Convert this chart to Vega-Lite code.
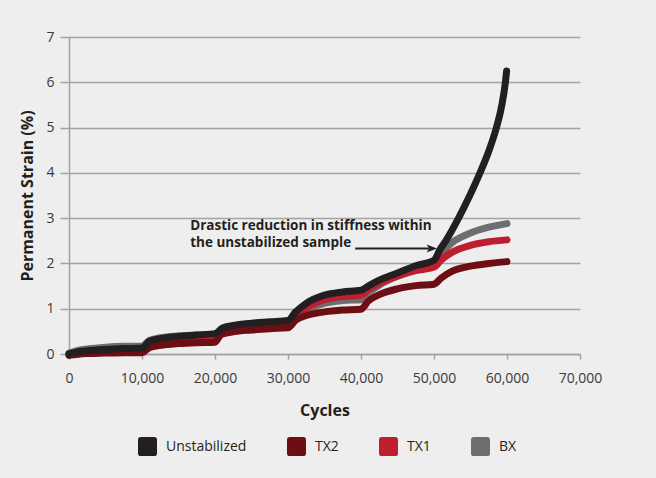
{
  "$schema": "https://vega.github.io/schema/vega-lite/v6.json",
  "width": 511,
  "height": 317,
  "autosize": {"type": "none"},
  "padding": {"left": 69, "top": 37, "right": 76, "bottom": 124},
  "background": "#eeeeee",
  "config": {
    "view": {"stroke": null},
    "font": "Open Sans",
    "axis": {
      "labelFont": "Open Sans",
      "labelFontSize": 14,
      "labelColor": "#3a3a3a",
      "titleFont": "Open Sans",
      "titleFontSize": 16,
      "titleFontWeight": "bold",
      "titleColor": "#231f20",
      "domainColor": "#a3a3a3",
      "domainWidth": 1.5,
      "tickColor": "#a3a3a3",
      "tickWidth": 1.5,
      "gridColor": "#a3a3a3",
      "gridWidth": 1.5
    }
  },
  "datasets": {
    "curves": [
      {"series": "BX", "cycles": 0, "strain": 0.02},
      {"series": "BX", "cycles": 1000, "strain": 0.07},
      {"series": "BX", "cycles": 2500, "strain": 0.11},
      {"series": "BX", "cycles": 5000, "strain": 0.15},
      {"series": "BX", "cycles": 7500, "strain": 0.17},
      {"series": "BX", "cycles": 10000, "strain": 0.17},
      {"series": "BX", "cycles": 11000, "strain": 0.3},
      {"series": "BX", "cycles": 12500, "strain": 0.36},
      {"series": "BX", "cycles": 15000, "strain": 0.4},
      {"series": "BX", "cycles": 17500, "strain": 0.42},
      {"series": "BX", "cycles": 20000, "strain": 0.43},
      {"series": "BX", "cycles": 21000, "strain": 0.5},
      {"series": "BX", "cycles": 22500, "strain": 0.54},
      {"series": "BX", "cycles": 25000, "strain": 0.57},
      {"series": "BX", "cycles": 27500, "strain": 0.59},
      {"series": "BX", "cycles": 30000, "strain": 0.6},
      {"series": "BX", "cycles": 31000, "strain": 0.8},
      {"series": "BX", "cycles": 32500, "strain": 0.97},
      {"series": "BX", "cycles": 35000, "strain": 1.12},
      {"series": "BX", "cycles": 37500, "strain": 1.18},
      {"series": "BX", "cycles": 40000, "strain": 1.2},
      {"series": "BX", "cycles": 41000, "strain": 1.35},
      {"series": "BX", "cycles": 42500, "strain": 1.52},
      {"series": "BX", "cycles": 45000, "strain": 1.72},
      {"series": "BX", "cycles": 47500, "strain": 1.88},
      {"series": "BX", "cycles": 50000, "strain": 2.0},
      {"series": "BX", "cycles": 51000, "strain": 2.22},
      {"series": "BX", "cycles": 52500, "strain": 2.46},
      {"series": "BX", "cycles": 55000, "strain": 2.67},
      {"series": "BX", "cycles": 57500, "strain": 2.8},
      {"series": "BX", "cycles": 60000, "strain": 2.88},

      {"series": "TX1", "cycles": 0, "strain": -0.02},
      {"series": "TX1", "cycles": 1000, "strain": 0.0},
      {"series": "TX1", "cycles": 2500, "strain": 0.02},
      {"series": "TX1", "cycles": 5000, "strain": 0.04},
      {"series": "TX1", "cycles": 7500, "strain": 0.05},
      {"series": "TX1", "cycles": 10000, "strain": 0.05},
      {"series": "TX1", "cycles": 11000, "strain": 0.15},
      {"series": "TX1", "cycles": 12500, "strain": 0.2},
      {"series": "TX1", "cycles": 15000, "strain": 0.25},
      {"series": "TX1", "cycles": 17500, "strain": 0.28},
      {"series": "TX1", "cycles": 20000, "strain": 0.3},
      {"series": "TX1", "cycles": 21000, "strain": 0.45},
      {"series": "TX1", "cycles": 22500, "strain": 0.5},
      {"series": "TX1", "cycles": 25000, "strain": 0.55},
      {"series": "TX1", "cycles": 27500, "strain": 0.58},
      {"series": "TX1", "cycles": 30000, "strain": 0.6},
      {"series": "TX1", "cycles": 31000, "strain": 0.82},
      {"series": "TX1", "cycles": 32500, "strain": 1.02},
      {"series": "TX1", "cycles": 35000, "strain": 1.2},
      {"series": "TX1", "cycles": 37500, "strain": 1.27},
      {"series": "TX1", "cycles": 40000, "strain": 1.3},
      {"series": "TX1", "cycles": 41000, "strain": 1.42},
      {"series": "TX1", "cycles": 42500, "strain": 1.56},
      {"series": "TX1", "cycles": 45000, "strain": 1.72},
      {"series": "TX1", "cycles": 47500, "strain": 1.84},
      {"series": "TX1", "cycles": 50000, "strain": 1.92},
      {"series": "TX1", "cycles": 51000, "strain": 2.08},
      {"series": "TX1", "cycles": 52500, "strain": 2.25},
      {"series": "TX1", "cycles": 55000, "strain": 2.4},
      {"series": "TX1", "cycles": 57500, "strain": 2.48},
      {"series": "TX1", "cycles": 60000, "strain": 2.52},

      {"series": "TX2", "cycles": 0, "strain": -0.03},
      {"series": "TX2", "cycles": 1000, "strain": -0.01},
      {"series": "TX2", "cycles": 2500, "strain": 0.01},
      {"series": "TX2", "cycles": 5000, "strain": 0.02},
      {"series": "TX2", "cycles": 7500, "strain": 0.03},
      {"series": "TX2", "cycles": 10000, "strain": 0.03},
      {"series": "TX2", "cycles": 11000, "strain": 0.14},
      {"series": "TX2", "cycles": 12500, "strain": 0.19},
      {"series": "TX2", "cycles": 15000, "strain": 0.23},
      {"series": "TX2", "cycles": 17500, "strain": 0.25},
      {"series": "TX2", "cycles": 20000, "strain": 0.26},
      {"series": "TX2", "cycles": 20800, "strain": 0.43},
      {"series": "TX2", "cycles": 22500, "strain": 0.49},
      {"series": "TX2", "cycles": 25000, "strain": 0.53},
      {"series": "TX2", "cycles": 27500, "strain": 0.56},
      {"series": "TX2", "cycles": 30000, "strain": 0.58},
      {"series": "TX2", "cycles": 31000, "strain": 0.74},
      {"series": "TX2", "cycles": 32500, "strain": 0.85},
      {"series": "TX2", "cycles": 35000, "strain": 0.93},
      {"series": "TX2", "cycles": 37500, "strain": 0.97},
      {"series": "TX2", "cycles": 40000, "strain": 0.99},
      {"series": "TX2", "cycles": 41000, "strain": 1.17},
      {"series": "TX2", "cycles": 42500, "strain": 1.31},
      {"series": "TX2", "cycles": 45000, "strain": 1.44},
      {"series": "TX2", "cycles": 47500, "strain": 1.51},
      {"series": "TX2", "cycles": 50000, "strain": 1.54},
      {"series": "TX2", "cycles": 51000, "strain": 1.68},
      {"series": "TX2", "cycles": 52500, "strain": 1.83},
      {"series": "TX2", "cycles": 55000, "strain": 1.94},
      {"series": "TX2", "cycles": 57500, "strain": 2.0},
      {"series": "TX2", "cycles": 60000, "strain": 2.04},

      {"series": "Unstabilized", "cycles": 0, "strain": 0.0},
      {"series": "Unstabilized", "cycles": 1000, "strain": 0.04},
      {"series": "Unstabilized", "cycles": 2500, "strain": 0.07},
      {"series": "Unstabilized", "cycles": 5000, "strain": 0.1},
      {"series": "Unstabilized", "cycles": 7500, "strain": 0.12},
      {"series": "Unstabilized", "cycles": 10000, "strain": 0.13},
      {"series": "Unstabilized", "cycles": 11000, "strain": 0.28},
      {"series": "Unstabilized", "cycles": 12500, "strain": 0.34},
      {"series": "Unstabilized", "cycles": 15000, "strain": 0.39},
      {"series": "Unstabilized", "cycles": 17500, "strain": 0.42},
      {"series": "Unstabilized", "cycles": 20000, "strain": 0.45},
      {"series": "Unstabilized", "cycles": 21000, "strain": 0.57},
      {"series": "Unstabilized", "cycles": 22500, "strain": 0.63},
      {"series": "Unstabilized", "cycles": 25000, "strain": 0.68},
      {"series": "Unstabilized", "cycles": 27500, "strain": 0.71},
      {"series": "Unstabilized", "cycles": 30000, "strain": 0.74},
      {"series": "Unstabilized", "cycles": 31000, "strain": 0.92},
      {"series": "Unstabilized", "cycles": 32500, "strain": 1.12},
      {"series": "Unstabilized", "cycles": 35000, "strain": 1.3},
      {"series": "Unstabilized", "cycles": 37500, "strain": 1.37},
      {"series": "Unstabilized", "cycles": 40000, "strain": 1.41},
      {"series": "Unstabilized", "cycles": 41000, "strain": 1.5},
      {"series": "Unstabilized", "cycles": 42500, "strain": 1.63},
      {"series": "Unstabilized", "cycles": 45000, "strain": 1.79},
      {"series": "Unstabilized", "cycles": 47500, "strain": 1.95},
      {"series": "Unstabilized", "cycles": 50000, "strain": 2.07},
      {"series": "Unstabilized", "cycles": 50800, "strain": 2.3},
      {"series": "Unstabilized", "cycles": 51700, "strain": 2.52},
      {"series": "Unstabilized", "cycles": 53360, "strain": 3.0},
      {"series": "Unstabilized", "cycles": 54900, "strain": 3.5},
      {"series": "Unstabilized", "cycles": 56300, "strain": 4.0},
      {"series": "Unstabilized", "cycles": 57550, "strain": 4.5},
      {"series": "Unstabilized", "cycles": 58550, "strain": 5.0},
      {"series": "Unstabilized", "cycles": 59300, "strain": 5.5},
      {"series": "Unstabilized", "cycles": 59780, "strain": 6.0},
      {"series": "Unstabilized", "cycles": 59950, "strain": 6.25}
    ],
    "note": [
      {"cycles": 16600, "strain": 2.83, "label": "Drastic reduction in stiffness within"},
      {"cycles": 16600, "strain": 2.45, "label": "the unstabilized sample"}
    ],
    "arrow": [
      {"cycles": 39200, "cycles2": 49300, "strain": 2.33, "tip": 49700}
    ]
  },
  "encoding": {
    "x": {
      "field": "cycles",
      "type": "quantitative",
      "scale": {"domain": [0, 70000], "nice": false},
      "axis": {
        "title": "Cycles",
        "values": [0, 10000, 20000, 30000, 40000, 50000, 60000, 70000],
        "format": ",d",
        "grid": false,
        "tickSize": 5,
        "labelPadding": 12,
        "titlePadding": 17,
        "labelFlush": false
      }
    },
    "y": {
      "field": "strain",
      "type": "quantitative",
      "scale": {"domain": [0, 7], "nice": false},
      "axis": {
        "title": "Permanent Strain (%)",
        "values": [0, 1, 2, 3, 4, 5, 6, 7],
        "format": "d",
        "grid": true,
        "tickSize": 9,
        "labelPadding": 6,
        "titlePadding": 10
      }
    }
  },
  "layer": [
    {
      "data": {"name": "curves"},
      "transform": [{"filter": "datum.series === 'BX'"}],
      "mark": {"type": "line", "strokeWidth": 7, "strokeCap": "round", "strokeJoin": "round", "interpolate": "monotone", "clip": false},
      "encoding": {"color": {"field": "series", "type": "nominal"}}
    },
    {
      "data": {"name": "curves"},
      "transform": [{"filter": "datum.series === 'TX1'"}],
      "mark": {"type": "line", "strokeWidth": 7, "strokeCap": "round", "strokeJoin": "round", "interpolate": "monotone", "clip": false},
      "encoding": {"color": {"field": "series", "type": "nominal"}}
    },
    {
      "data": {"name": "curves"},
      "transform": [{"filter": "datum.series === 'TX2'"}],
      "mark": {"type": "line", "strokeWidth": 7, "strokeCap": "round", "strokeJoin": "round", "interpolate": "monotone", "clip": false},
      "encoding": {"color": {"field": "series", "type": "nominal"}}
    },
    {
      "data": {"name": "curves"},
      "transform": [{"filter": "datum.series === 'Unstabilized'"}],
      "mark": {"type": "line", "strokeWidth": 7, "strokeCap": "round", "strokeJoin": "round", "interpolate": "monotone", "clip": false},
      "encoding": {
        "color": {
          "field": "series",
          "type": "nominal",
          "scale": {
            "domain": ["Unstabilized", "TX2", "TX1", "BX"],
            "range": ["#231f20", "#6d0e14", "#be1e2d", "#6d6e71"]
          },
          "legend": {
            "title": null,
            "orient": "none",
            "direction": "horizontal",
            "legendX": 69,
            "legendY": 400,
            "columnPadding": 40,
            "labelOffset": 9,
            "labelFont": "Open Sans",
            "labelFontSize": 14,
            "labelColor": "#231f20",
            "symbolType": "M-0.7,-1 L0.7,-1 Q1,-1 1,-0.7 L1,0.7 Q1,1 0.7,1 L-0.7,1 Q-1,1 -1,0.7 L-1,-0.7 Q-1,-1 -0.7,-1 Z",
            "symbolSize": 361,
            "symbolStrokeWidth": 0,
            "encode": {
              "symbols": {
                "update": {
                  "fill": {"scale": "color", "field": "value"},
                  "fillOpacity": {"value": 1},
                  "strokeWidth": {"value": 0}
                }
              }
            }
          }
        }
      }
    },
    {
      "data": {"name": "arrow"},
      "mark": {"type": "rule", "color": "#231f20", "strokeWidth": 2},
      "encoding": {
        "x": {"field": "cycles", "type": "quantitative"},
        "x2": {"field": "cycles2"},
        "y": {"field": "strain", "type": "quantitative"}
      }
    },
    {
      "data": {"name": "arrow"},
      "mark": {"type": "point", "shape": "M1,0 L-1,-0.75 L-0.5,0 L-1,0.75 Z", "filled": true, "color": "#231f20", "opacity": 1, "size": 110},
      "encoding": {
        "x": {"field": "tip", "type": "quantitative"},
        "y": {"field": "strain", "type": "quantitative"}
      }
    },
    {
      "data": {"name": "note"},
      "mark": {"type": "text", "align": "left", "baseline": "middle", "font": "Open Sans", "fontWeight": "bold", "fontSize": 13.5, "color": "#231f20"},
      "encoding": {
        "x": {"field": "cycles", "type": "quantitative"},
        "y": {"field": "strain", "type": "quantitative"},
        "text": {"field": "label"}
      }
    }
  ]
}
